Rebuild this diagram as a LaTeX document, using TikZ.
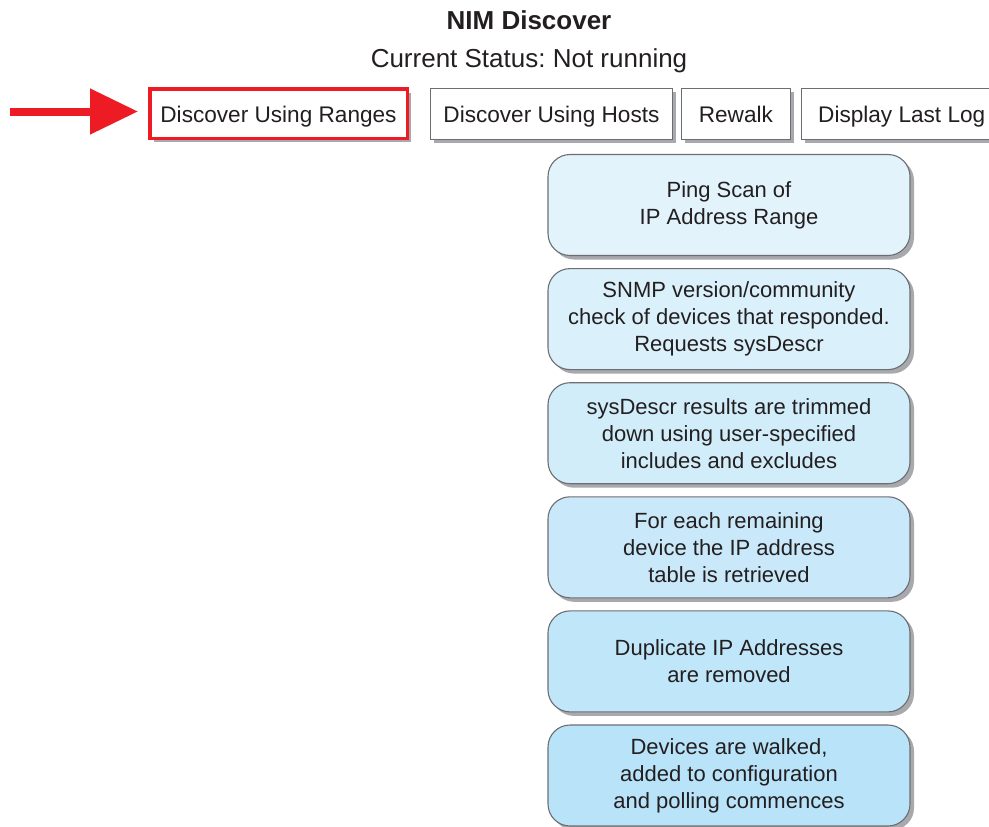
\documentclass[tikz,border=0pt]{standalone}
\usepackage{fontspec}
\setmainfont{Liberation Sans}
\frenchspacing
\usetikzlibrary{positioning,shadows,arrows.meta}

\definecolor{textgray}{HTML}{231F20}
\definecolor{edgegray}{HTML}{6D6E71}
\definecolor{shadowgray}{HTML}{A7A9AC}
\definecolor{alertred}{HTML}{ED1C24}
\definecolor{stagelight}{HTML}{E2F3FC}
\definecolor{stagedark}{HTML}{B8E3F8}

\tikzset{
    greyshadow/.style={drop shadow={shadow xshift=4pt,shadow yshift=-4pt,fill=shadowgray,opacity=1}},
    button/.style={draw=edgegray,line width=0.9pt,fill=white,minimum height=51pt,
        inner xsep=0pt,text height=18pt,text depth=0pt,
        font=\fontsize{22.6}{27}\selectfont,text=textgray,greyshadow},
    activebutton/.style={button,draw=alertred,line width=3.5pt,minimum height=49.5pt},
    stagebox/.style={draw=edgegray,line width=1.1pt,rounded corners=22pt,
        minimum width=362pt,minimum height=101pt,align=center,
        font=\fontsize{22}{27}\selectfont,text=textgray,greyshadow}
}

\begin{document}
\begin{tikzpicture}[x=1pt,y=1pt]
    \clip (0,0) rectangle (989,-827);

    %heading
    \node[anchor=base,font=\bfseries\fontsize{26}{30}\selectfont,text=textgray] (title) at (529,-29) {NIM Discover};
    \node[anchor=base,font=\fontsize{26}{30}\selectfont,text=textgray] (status) at (529,-67) {Current Status: Not running};

    %buttons
    \node[activebutton,minimum width=257.5pt] (ranges) at (278.5,-113.5) {Discover Using Ranges};
    \node[button,minimum width=242pt,right = 21pt of ranges] (hosts) {Discover Using Hosts};
    \node[button,minimum width=109pt,right = 8pt of hosts] (rewalk) {Rewalk};
    \node[button,minimum width=201pt,right = 10pt of rewalk] (lastlog) {Display Last Log};

    %stages
    \node[stagebox,fill=stagedark!0!stagelight] (stage1) at (729,-205) {Ping Scan of\\IP Address Range};
    \node[stagebox,fill=stagedark!20!stagelight,below = 12pt of stage1] (stage2) {SNMP version/community\\check of devices that responded.\\Requests sysDescr};
    \node[stagebox,fill=stagedark!40!stagelight,below = 12pt of stage2] (stage3) {sysDescr results are trimmed\\down using user-specified\\includes and excludes};
    \node[stagebox,fill=stagedark!60!stagelight,below = 12pt of stage3] (stage4) {For each remaining\\device the IP address\\table is retrieved};
    \node[stagebox,fill=stagedark!80!stagelight,below = 12pt of stage4] (stage5) {Duplicate IP Addresses\\are removed};
    \node[stagebox,fill=stagedark!100!stagelight,below = 12pt of stage5] (stage6) {Devices are walked,\\added to configuration\\and polling commences};

    %pointer
    \coordinate (pointertail) at (10,-111.5);
    \draw[alertred,line width=8pt,shorten >=10pt,-{Triangle[length=48pt,width=44pt]}] (pointertail) -- (pointertail -| ranges.west);
\end{tikzpicture}
\end{document}
